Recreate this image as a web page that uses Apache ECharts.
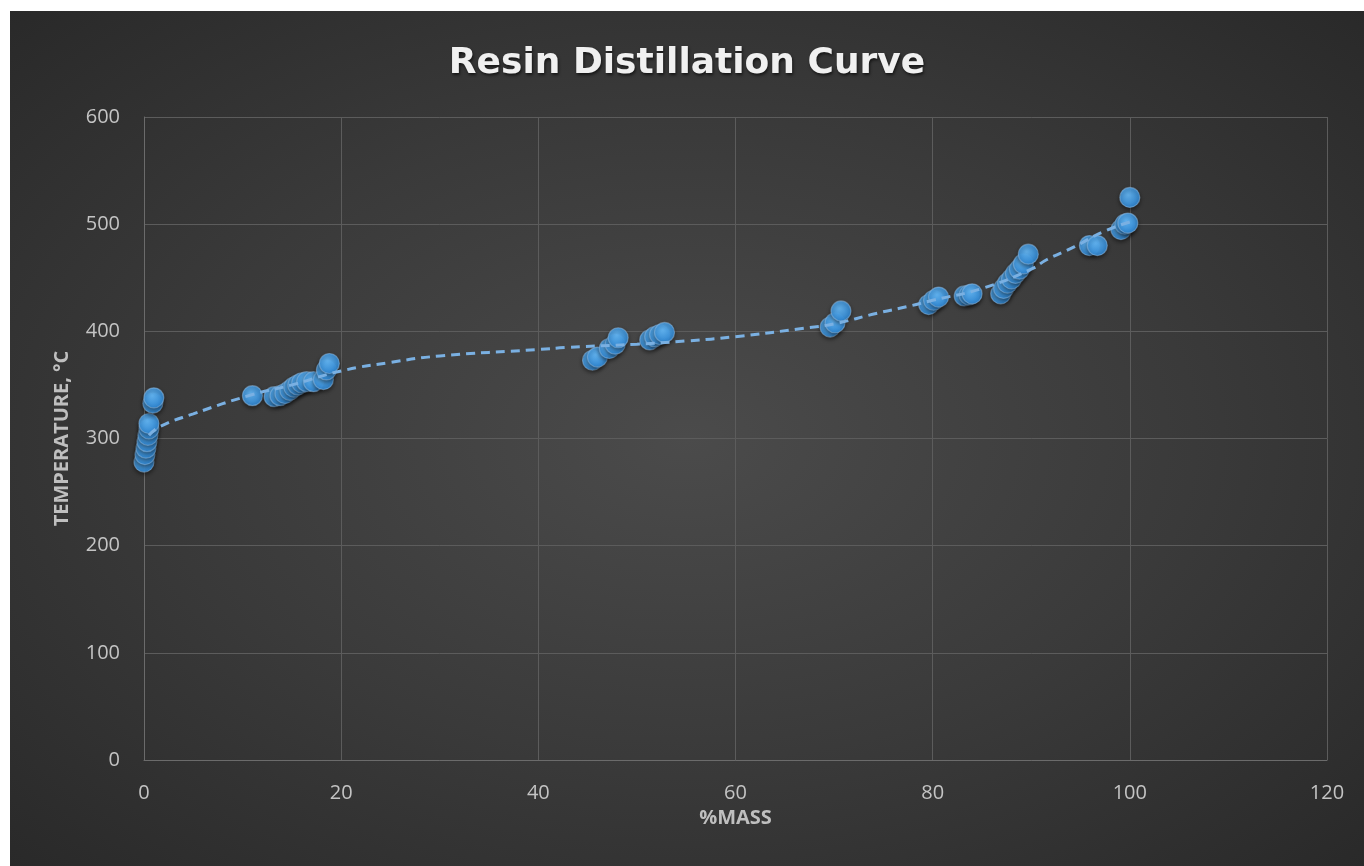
<!DOCTYPE html>
<html>
<head>
<meta charset="utf-8">
<script src="https://cdn.jsdelivr.net/npm/echarts@6/dist/echarts.min.js"></script>
<style>
html,body{margin:0;padding:0;background:#ffffff;width:1364px;height:866px;overflow:hidden;}
#chart{position:absolute;left:10px;top:11px;width:1354px;height:855px;
background:radial-gradient(ellipse 75% 75% at 50% 50%, #4b4b4b 0%, #3a3a3a 50%, #272727 100%);}
</style>
</head>
<body>
<div id="chart"></div>
<script>
// Measured points: %mass and temperature (°C)
const massPct = [0.0,0.1,0.2,0.3,0.4,0.5,0.5,0.9,1.0,
  11.0,
  13.2,13.8,14.3,14.8,15.2,15.6,16.0,16.5,17.2,18.2,18.5,18.8,
  45.5,46.0,47.2,47.8,48.1,
  51.3,51.8,52.3,52.8,
  69.6,70.1,70.7,
  79.6,80.1,80.6,
  83.2,83.7,84.0,
  86.9,87.2,87.6,88.0,88.4,88.8,89.2,89.7,
  95.9,96.7,
  99.1,99.5,99.8,100.0];
const tempC = [278,285,291,297,303,309,314,333,338,
  340,
  339,340,342,345,348,350,352,353,353,355,364,370,
  373,376,384,388,394,
  392,395,397,399,
  404,408,419,
  425,429,432,
  433,434,435,
  435,440,445,449,454,458,463,472,
  480,480,
  495,500,501,525];
// Trendline
const trendX = [0.5,1.6,5,11,15,20,25,30,40,43,50,55,60,67,70,74.4,77.4,80,85,90,91.6,94.4,97.3,100];
const trendY = [303,311,323,341,350,363,371,377,383,385,388,391,395,403,407,417,423,429,440,458,467,479,493,502];
// Axis ticks
const xTicks = {min:0,max:120,interval:20};
const yTicks = {min:0,max:600,interval:100};

const chart = echarts.init(document.getElementById('chart'), null, {renderer:'canvas'});
const font = '"Open Sans", "Liberation Sans", sans-serif';
chart.setOption({
  backgroundColor:'transparent',
  animation:false,
  title:{
    text:'Resin Distillation Curve',
    left:'center', top:30,
    textStyle:{color:'#f0f0f0', fontSize:36, fontWeight:'bold', fontFamily:'"DejaVu Sans", sans-serif',
      textShadowColor:'rgba(0,0,0,0.6)', textShadowBlur:3, textShadowOffsetX:1, textShadowOffsetY:2}
  },
  grid:{left:134, right:37, top:106, bottom:106, containLabel:false},
  xAxis:{
    type:'value', min:xTicks.min, max:xTicks.max, interval:xTicks.interval,
    name:'%MASS', nameLocation:'middle', nameGap:32,
    nameTextStyle:{color:'#bfbfbf', fontSize:20, fontWeight:'bold', fontFamily:font},
    axisLine:{show:true, onZero:false, lineStyle:{color:'#6b6b6b', width:1}},
    axisTick:{show:false},
    axisLabel:{color:'#c4c4c4', fontSize:20, fontFamily:font, margin:23},
    splitLine:{show:true, lineStyle:{color:'#5c5c5c', width:1}}
  },
  yAxis:{
    type:'value', min:yTicks.min, max:yTicks.max, interval:yTicks.interval,
    name:'TEMPERATURE, °C', nameLocation:'middle', nameGap:72,
    nameTextStyle:{color:'#bfbfbf', fontSize:20, fontWeight:'bold', fontFamily:font},
    axisLine:{show:true, lineStyle:{color:'#6b6b6b', width:1}},
    axisTick:{show:false},
    axisLabel:{color:'#c4c4c4', fontSize:20, fontFamily:font, margin:24},
    splitLine:{show:true, lineStyle:{color:'#5c5c5c', width:1}}
  },
  series:[
    {
      type:'scatter',
      data: massPct.map((x,i)=>[x,tempC[i]]),
      symbol:'circle', symbolSize:20,
      itemStyle:{
        color:{type:'radial', x:0.42, y:0.38, r:0.62, colorStops:[
          {offset:0,color:'#66baf9'},{offset:1,color:'#2f8ad9'}]},
        borderColor:'rgba(150,195,235,0.55)', borderWidth:1.2,
        opacity:0.9,
        shadowBlur:4, shadowColor:'rgba(0,0,0,0.55)', shadowOffsetY:2
      },
      z:2
    },
    {
      type:'line',
      data: trendX.map((x,i)=>[x,trendY[i]]),
      smooth:true, symbol:'none',
      lineStyle:{color:'#7ab0e2', width:3, type:[9,6]},
      z:3
    }
  ]
});
</script>
</body>
</html>
